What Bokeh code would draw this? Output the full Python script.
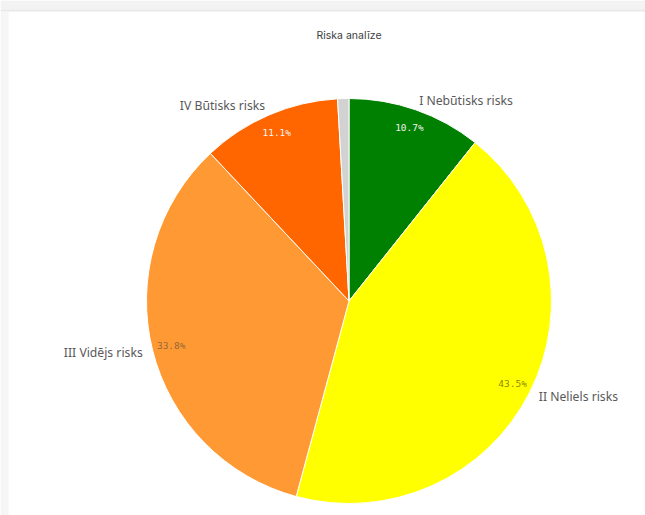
import math
from bokeh.plotting import figure
from bokeh.models import Range1d, ColumnDataSource
from bokeh.core.properties import value
from bokeh.embed import file_html
from bokeh.resources import INLINE

# Data
categories = ["I Nebūtisks risks", "II Neliels risks", "III Vidējs risks", "IV Būtisks risks", ""]
shares = [10.7, 43.5, 33.8, 11.1, 0.9]
colors = ["#008000", "#ffff00", "#ff9933", "#ff6600", "#d2d2d2"]
pct_colors = ["#f0f0f0", "#333300", "#444444", "#f5f5f5", "#444444"]
pct_alpha = [1.0, 0.6, 0.6, 1.0, 0.0]
title_text = "Riska analīze"

W, H = 645, 515
p = figure(width=W, height=H, output_backend="svg", toolbar_location=None,
           x_range=Range1d(0, W), y_range=Range1d(0, H), min_border=0)
p.axis.visible = False
p.grid.visible = False
p.outline_line_color = None
p.background_fill_color = "white"
p.border_fill_color = "white"

# card shadow bands (screen y measured from top)
p.quad(left=[0], right=[W], bottom=[H - 9], top=[H], fill_color="#f3f3f3", line_color=None)
p.quad(left=[0], right=[W], bottom=[H - 11], top=[H - 9], fill_color="#e8e8e8", line_color=None)
p.quad(left=[0], right=[8], bottom=[0], top=[H - 11], fill_color="#f6f6f6", line_color=None)

cx, cy, R = 348.5, H - 300.5, 202.5
total = sum(shares)
starts, ends, mids = [], [], []
acc = 0.0
for s in shares:
    a0 = math.pi / 2 - 2 * math.pi * acc / total
    acc += s
    a1 = math.pi / 2 - 2 * math.pi * acc / total
    starts.append(a0)
    ends.append(a1)
    mids.append((a0 + a1) / 2)

src = ColumnDataSource(dict(start=starts, end=ends, color=colors))
p.wedge(x=cx, y=cy, radius=R, start_angle="start", end_angle="end", direction="clock",
        fill_color="color", line_color="white", line_width=1, source=src)

# percentage labels inside, category labels outside
px, py, ptxt, pc, pa = [], [], [], [], []
lx, ly, ltxt, lalign = [], [], [], []
for cat, s, m, c, a in zip(categories, shares, mids, pct_colors, pct_alpha):
    if s < 2:
        continue
    px.append(cx + 0.905 * R * math.cos(m))
    py.append(cy + 0.905 * R * math.sin(m))
    ptxt.append(f"{s:.1f}%")
    pc.append(c)
    pa.append(a)
    lx.append(cx + 1.05 * R * math.cos(m))
    ly.append(cy + 1.05 * R * math.sin(m))
    ltxt.append(cat)
    lalign.append("left" if math.cos(m) >= 0 else "right")

p.text(x=px, y=py, text=ptxt, text_color=pc, text_alpha=pa, text_font_size="9.5px",
       text_font=value("DejaVu Sans Mono"), text_align="center", text_baseline="middle")

ls = ColumnDataSource(dict(x=lx, y=ly, t=ltxt, a=lalign))
p.text(x="x", y="y", text="t", text_align="a", source=ls, text_color="#595959",
       text_font_size="12.2px", text_font=value("Noto Sans"), text_baseline="middle")

p.text(x=[cx], y=[H - 35], text=[title_text], text_color="#404040", text_font_size="10.5px",
       text_font=value("Inter"), text_align="center", text_baseline="middle")

open("out.html", "w").write(file_html(p, INLINE))
